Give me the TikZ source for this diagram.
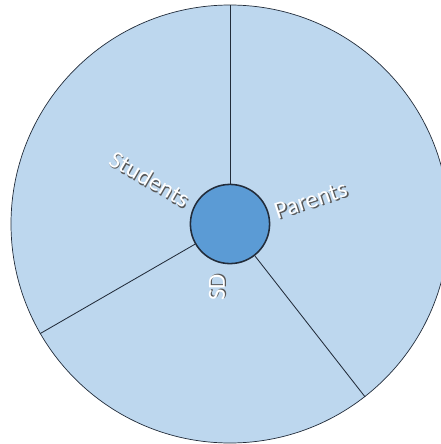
\documentclass[tikz,border=0pt]{standalone}
\usepackage{fontspec}
\setmainfont{Carlito}
\usepackage{xcolor}
\usepackage{tikz}
\usetikzlibrary{calc}
\definecolor{rimfill}{RGB}{189,215,238}
\definecolor{hubfill}{RGB}{91,155,213}
\definecolor{edgec}{RGB}{34,44,58}
\newcommand{\shtext}[1]{\rlap{\hspace{1pt}\raisebox{-1pt}{\color{black!65}#1}}{\color{white}#1}}

\begin{document}
\begin{tikzpicture}[font=\fontsize{17.5}{20}\selectfont,
  rim/.style={circle, draw=edgec, line width=0.5pt, fill=rimfill, minimum size=10.95cm, inner sep=0pt},
  hub/.style={circle, draw=edgec, line width=1.1pt, fill=hubfill, minimum size=1.98cm, inner sep=0pt},
  spoke/.style={edgec, line width=0.6pt},
  lbl/.style={inner sep=0pt}]

% 1px = 0.025cm ; centre of the wheel at pixel (230,224)
\useasboundingbox (-5.75,-5.5) rectangle (5.275,5.6);

%% ── outer wheel and hub ──────────────────────────────────────────
\node[rim] (rim) at (0,0) {};
\node[hub] (sd) at (0,0) {};

%% ── spokes ───────────────────────────────────────────────────────
\draw[spoke] (sd.90) -- (rim.90);
\draw[spoke] (sd.210) -- (rim.210);
\draw[spoke] (sd.308) -- (rim.308);

%% ── labels (radial) ──────────────────────────────────────────────
\node[lbl, rotate=-30] (students) at (151:2.3) {\shtext{Students}};
\node[lbl, rotate=18] (parents) at (16:2.1) {\shtext{Parents}};
\node[lbl, rotate=90] (sdlbl) at (259:1.62) {\shtext{SD}};

\end{tikzpicture}
\end{document}
